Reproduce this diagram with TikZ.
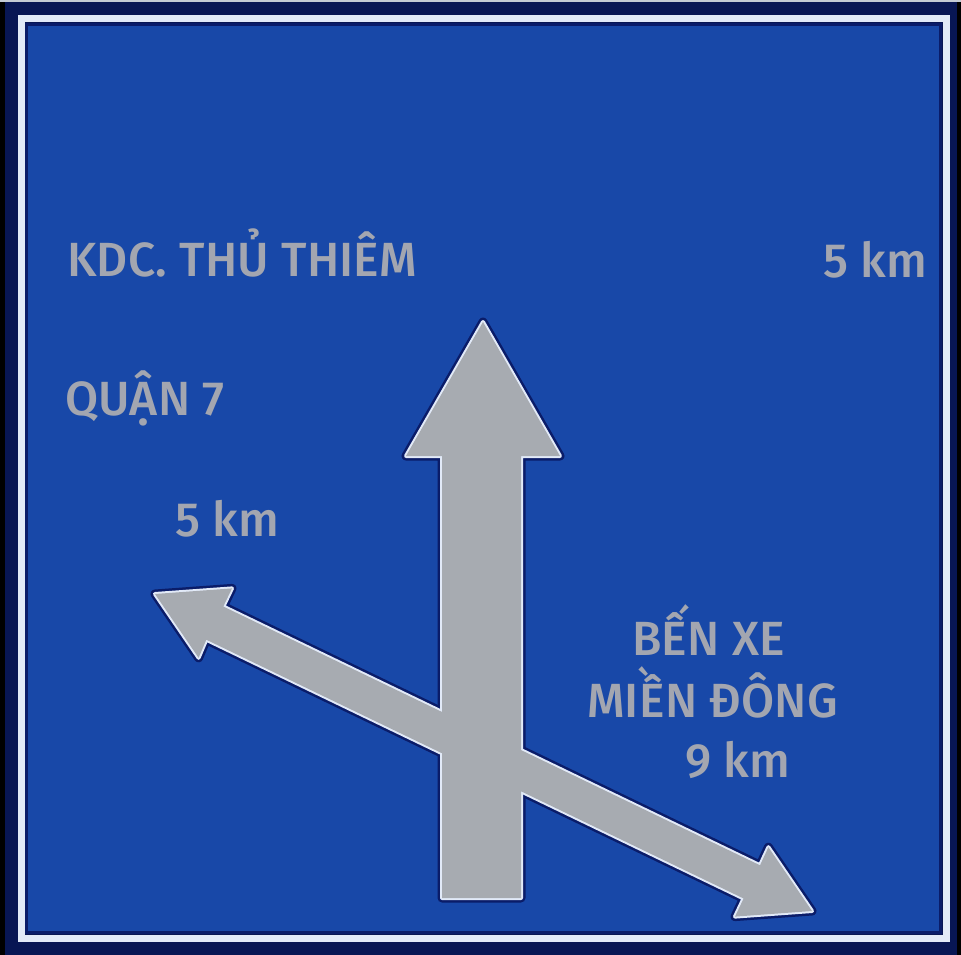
\documentclass[tikz,border=0pt]{standalone}
\usepackage{fontspec}
\setmainfont{Fira Sans}[BoldFont={Fira Sans Medium}, LetterSpace=0.5]
\usetikzlibrary{positioning}

\definecolor{signblue}{RGB}{24,72,168}
\definecolor{signnavy}{RGB}{10,28,105}
\definecolor{signrim}{RGB}{226,234,248}
\definecolor{arrowgray}{RGB}{167,171,177}
\definecolor{lettergray}{RGB}{163,166,176}

% both arrows of the sign, drawn with the options given
\newcommand\signarrows[1]{%
  \path[#1] (442,898) -- (442,456) -- (406,456) -- (483,322) -- (560,456)
    -- (521,456) -- (521,898) -- cycle;
  \path[#1] (155,594) -- (232,588.4) -- (223.3,606.5) -- (760,865.3)
    -- (768.4,847.2) -- (812,911) -- (735,916.6) -- (743.6,898.5)
    -- (206.3,639.7) -- (198.6,657.8) -- cycle;
}

\begin{document}
\begin{tikzpicture}[x=1pt, y=-1pt,
    signtext/.style={anchor=base west, inner sep=0pt, text=lettergray,
      font=\fontsize{48}{54}\selectfont\bfseries}]

  \useasboundingbox (0,0) rectangle (961,955);

  % board
  \fill[signnavy!80!black] (0,0) rectangle (961,955);
  \fill[black] (0,0) rectangle (5,955);
  \fill[black] (957,0) rectangle (961,955);
  \fill[signrim!70!gray] (0,0) rectangle (961,2);
  \draw[signrim, line width=7pt] (21,19) rectangle (946,938);
  \draw[signnavy, line width=3pt] (26.5,24.5) rectangle (940.5,932.5);
  \fill[signblue] (28,26) rectangle (939,931);

  % arrows: dark rim, light rim, then the gray face
  \signarrows{draw=signnavy, line width=9pt, line join=round}
  \signarrows{draw=signrim, line width=4pt, line join=round}
  \signarrows{fill=arrowgray}

  % destinations
  \foreach \name/\x/\y/\txt in {kdc/67/276/KDC. THỦ THIÊM, kmtop/823/277/5 km,
      quan/65/415/QUẬN 7, kmleft/175/536/5 km, ben/632/655/BẾN XE,
      mien/587/717/MIỀN ĐÔNG, kmright/685/777/9 km} {
    \node[signtext] (\name) at (\x,\y) {\txt};
  }

\end{tikzpicture}
\end{document}
